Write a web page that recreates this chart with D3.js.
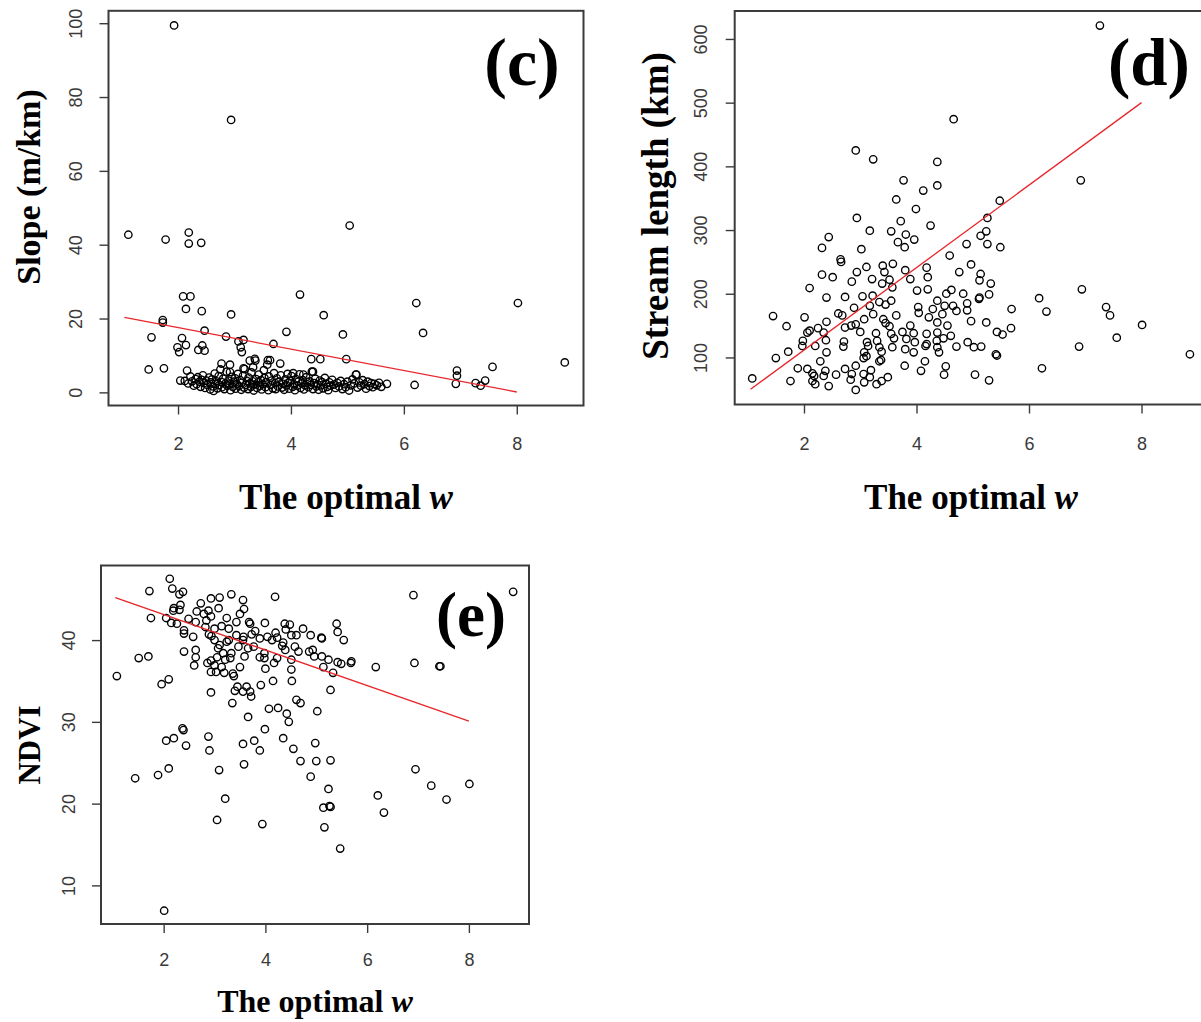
<!DOCTYPE html>
<html><head><meta charset="utf-8">
<script src="https://cdn.jsdelivr.net/npm/d3@7"></script>
<style>body{margin:0;background:#fff}svg{display:block}</style>
</head><body>
<svg id="chart" width="1201" height="1022"></svg>
<script>
// ---------------- DATA ----------------
const wTicks = [2, 4, 6, 8];
const slopeTicks = [0, 20, 40, 60, 80, 100];
const lengthTicks = [100, 200, 300, 400, 500, 600];
const ndviTicks = [10, 20, 30, 40];

// (c) optimal w vs slope (m/km)
const slopePoints = [
[1.93,99.4],[2.94,73.8],[1.12,42.7],[1.78,41.4],[2.19,43.3],[2.19,40.3],[2.41,40.5],[5.04,45.2],
[2.09,26.0],[2.22,26.0],[2.14,22.6],[2.42,22.0],[2.94,21.1],[4.16,26.5],[4.58,20.9],[6.22,24.2],[8.02,24.2],
[1.73,19.6],[1.73,18.9],[1.53,14.9],[2.47,16.7],[2.85,15.1],[3.92,16.4],[4.92,15.7],[6.34,16.1],[2.07,14.7],
[1.99,12.2],[2.02,10.9],[2.14,12.8],[2.43,12.7],[2.36,11.5],[2.47,11.3],[3.07,13.8],[3.16,14.2],[3.11,12.2],[3.13,10.9],
[3.69,13.1],[4.36,9.0],[4.52,9.0],[4.98,9.0],[1.48,6.2],[1.75,6.5],[2.16,5.9],[2.04,3.2],[6.94,5.9],[6.94,4.5],
[6.92,2.3],[7.57,6.9],[8.85,8.1],[7.27,2.5],[7.44,3.2],[7.36,1.8],[6.19,2.0],[5.70,2.3],
[2.77,7.8],[3.27,8.6],[3.36,9.1],[3.59,8.7],[3.33,6.8],[3.16,6.5],[2.92,5.5],[4.04,5.2],[4.22,4.8],[4.39,5.6],[5.16,4.8],
[2.12,3.1],[2.18,2.4],[2.22,4.3],[2.25,3.0],[2.28,1.8],[2.31,3.6],[2.33,2.2],[2.35,4.1],[2.38,2.9],[2.40,1.5],
[2.42,3.4],[2.44,4.6],[2.46,2.5],[2.48,1.2],[2.50,3.2],[2.52,2.0],[2.55,4.0],[2.57,0.8],[2.58,2.7],[2.60,3.5],
[2.62,1.6],[2.63,0.4],[2.65,5.1],[2.66,2.3],[2.68,3.0],[2.70,1.1],[2.72,4.4],[2.73,2.0],[2.75,6.2],[2.77,2.8],
[2.78,1.4],[2.80,3.7],[2.82,0.9],[2.84,2.4],[2.86,5.6],[2.87,1.8],[2.89,3.2],[2.91,2.1],[2.92,7.5],[2.93,0.6],
[2.95,4.2],[2.97,1.5],[2.99,2.9],[3.01,3.8],[3.02,1.0],[3.04,2.3],[3.06,5.0],[3.08,1.7],[3.10,3.3],[3.12,0.7],
[3.13,2.6],[3.15,4.5],[3.17,1.3],[3.18,6.3],[3.20,2.0],[3.22,3.1],[3.24,0.9],[3.25,4.0],[3.27,2.4],[3.29,1.5],
[3.30,5.4],[3.32,3.0],[3.34,0.5],[3.35,2.1],[3.37,8.6],[3.38,3.6],[3.40,1.2],[3.42,2.7],[3.43,4.8],[3.45,1.8],
[3.47,3.3],[3.48,0.8],[3.50,2.2],[3.52,6.0],[3.53,3.9],[3.55,1.4],[3.56,2.8],[3.58,7.5],[3.60,0.6],[3.61,4.3],
[3.63,8.7],[3.64,2.0],[3.66,3.2],[3.68,1.1],[3.70,5.2],[3.72,2.5],[3.73,0.9],[3.75,3.8],[3.77,1.6],[3.79,2.9],
[3.81,7.8],[3.82,4.6],[3.84,1.3],[3.86,2.3],[3.88,0.7],[3.90,3.5],[3.92,1.9],[3.94,5.0],[3.95,2.6],[3.97,1.0],
[3.99,3.1],[4.01,4.4],[4.03,1.5],[4.05,2.2],[4.07,0.6],[4.09,3.6],[4.11,1.8],[4.13,2.9],[4.15,4.9],[4.17,1.2],
[4.19,2.4],[4.21,3.3],[4.23,0.8],[4.25,1.9],[4.27,4.1],[4.29,2.7],[4.31,1.4],[4.33,3.0],[4.35,2.0],[4.37,5.6],
[4.39,0.9],[4.41,2.5],[4.43,3.7],[4.45,1.6],[4.47,2.2],[4.49,0.7],[4.51,3.2],[4.53,1.9],[4.55,2.8],[4.57,1.1],
[4.60,3.9],[4.62,2.3],[4.64,1.5],[4.66,0.6],[4.68,2.7],[4.70,1.8],[4.73,3.4],[4.76,2.1],[4.79,1.2],[4.82,2.6],
[4.85,1.6],[4.88,3.1],[4.91,0.9],[4.94,2.2],[4.97,1.4],[5.00,2.9],[5.03,0.5],[5.06,1.9],[5.09,3.5],[5.12,2.4],
[5.15,4.8],[5.18,1.3],[5.21,2.7],[5.24,1.8],[5.27,3.3],[5.30,2.2],[5.33,1.0],[5.36,2.9],[5.39,1.7],[5.42,2.5],
[5.45,1.4],[5.48,2.3],[5.52,1.9],[5.56,2.6],[5.60,1.5]
];
const slopeFit = [[1.05, 20.3], [8.0, 0.1]];

// (d) optimal w vs stream length (km)
const lengthPoints = [
[7.26,621],[4.66,474],[2.92,425],[3.23,411],[4.37,407],[4.37,370],[3.77,378],[4.12,362],[3.64,348],[5.48,346],
[3.99,333],[6.92,378],[2.94,319],[3.72,314],[5.26,319],[4.25,307],[3.17,299],[3.55,298],[3.81,293],[3.96,285],
[5.24,298],[5.14,291],[2.44,289],[2.32,272],[3.02,270],[3.67,281],[3.79,273],[4.89,278],[5.26,278],[5.49,273],
[2.65,254],[2.66,250],[4.59,260],[3.58,247],[3.40,244],[3.11,242],[4.97,246],[4.18,241],[3.80,237],[3.43,234],
[2.32,230],[2.51,226],[2.94,234],[3.21,223],[3.52,222],[3.89,223],[4.20,226],[4.76,234],[5.14,231],[5.12,221],
[5.32,216],[2.85,219],[3.39,216],[2.10,209],[3.57,210],[4.01,205],[4.20,207],[4.62,206],[6.94,207],[6.18,193],
[2.40,194],[2.73,195],[3.04,196],[3.22,197],[4.53,200],[4.83,200],[5.29,199],[5.12,194],[5.11,192],[4.37,189],
[3.55,189],[3.34,187],[3.45,183],[4.90,185],[4.65,181],[4.50,181],[4.29,176],[4.03,179],[3.17,181],[2.89,178],
[5.69,176],[7.37,179],[6.31,172],[4.71,173],[4.90,174],[4.04,170],[4.46,168],[4.22,163],[3.64,166],[3.23,168],
[2.61,169],[2.68,166],[7.44,166],[1.45,165],[2.01,163],[3.07,160],[3.41,160],[2.40,156],[2.92,152],[2.84,150],
[3.45,154],[4.37,155],[4.55,150],[4.97,157],[5.24,155],[8.01,151],[1.69,149],[3.52,149],[3.89,150],[2.73,147],
[2.25,146],[5.68,146],[5.43,140],[5.53,136],[2.10,142],[2.06,139],[2.35,139],[3.00,140],[3.28,138],[3.55,137],
[3.75,140],[3.95,138],[4.18,137],[4.37,139],[4.61,134],[1.98,126],[2.39,127],[2.71,125],[3.12,124],[3.30,126],
[3.60,130],[3.82,129],[3.97,124],[4.18,121],[4.36,126],[4.48,130],[4.91,124],[7.56,131],[1.97,118],[2.20,118],
[2.70,117],[3.14,118],[3.34,116],[3.57,116],[3.80,113],[4.16,118],[4.37,116],[4.71,117],[5.02,116],[5.15,117],
[6.89,117],[1.72,109],[2.40,108],[3.07,108],[3.38,109],[3.95,108],[4.40,108],[5.41,105],[5.43,103],[8.86,105],
[1.50,99],[3.11,102],[3.06,99],[3.34,94],[2.29,94],[4.15,94],[3.37,96],[1.89,83],[2.06,82],[2.73,82],
[3.79,87],[2.92,87],[4.52,86],[6.23,83],[3.19,80],[4.08,79],[2.38,79],[2.15,75],[2.18,71],[2.57,73],
[2.85,74],[3.06,74],[2.35,71],[4.49,73],[5.04,73],[1.08,67],[1.76,63],[2.15,63],[2.83,65],[3.17,69],
[3.38,63],[3.49,69],[5.29,64],[2.20,58],[2.44,55],[2.92,49],[3.29,58],[3.07,61]
];
const lengthFit = [[1.05, 50], [8.0, 500]];

// (e) optimal w vs NDVI
const ndviPoints = [
[8.87,45.9],[6.91,45.5],[6.93,37.2],[7.42,36.8],[7.44,36.8],[6.17,36.7],[6.95,24.2],[7.26,22.2],[8.01,22.4],[7.56,20.5],
[6.21,21.0],[6.33,18.9],[5.47,14.5],[5.16,17.1],[5.14,19.5],[5.26,19.7],[5.28,19.6],[5.24,21.8],[4.89,23.3],[5.28,25.3],
[5.00,25.2],[4.69,25.2],[4.98,27.4],[4.55,26.7],[4.35,28.0],[5.02,31.3],[5.28,33.9],[4.61,32.7],[4.69,32.3],[4.42,31.0],
[4.46,30.0],[4.25,31.7],[4.07,31.6],[3.99,29.1],[3.89,26.5],[3.78,27.7],[3.56,27.3],[3.58,24.8],[3.66,30.6],[3.94,17.5],
[3.21,20.6],[3.05,18.0],[3.09,24.1],[2.90,26.5],[2.88,28.2],[2.93,33.6],[2.01,6.9],[1.44,23.1],[1.89,23.5],[2.10,24.3],
[2.44,27.1],[2.05,27.7],[2.20,28.0],[2.37,29.2],[2.39,29.0],[1.08,35.6],[1.51,37.8],[1.70,38.0],[1.96,34.6],[2.10,35.2],
[2.40,38.6],[2.63,38.8],[2.63,37.9],[2.60,36.9],[2.58,40.4],[1.75,42.7],[1.72,46.0],[2.12,47.5],[2.17,46.3],[2.31,45.6],
[2.38,45.9],[2.33,44.3],[2.20,43.9],[2.19,43.6],[2.31,43.7],[2.05,42.7],[2.26,42.0],[2.40,41.2],[2.40,40.8],[2.49,42.6],
[2.63,42.2],[2.73,44.5],[2.65,43.5],[2.79,43.2],[2.88,43.6],[2.84,42.4],[2.93,45.1],[3.10,45.2],[3.08,43.9],[3.33,45.6],
[3.24,42.7],[3.00,41.4],[2.94,40.5],[3.00,40.0],[3.14,41.7],[3.28,40.0],[3.24,39.8],[3.43,42.2],[3.50,43.2],[3.56,44.9],
[3.58,43.8],[3.68,42.2],[3.70,42.0],[3.57,40.4],[3.43,40.6],[3.73,40.7],[3.80,41.1],[3.89,40.2],[3.99,42.1],[4.04,40.4],
[4.19,45.3],[4.20,40.9],[4.23,40.3],[4.13,40.0],[4.38,42.0],[4.48,41.9],[4.51,40.6],[4.40,41.3],[4.35,39.7],[4.33,39.3],
[4.39,38.8],[4.61,40.6],[4.74,41.4],[4.58,39.2],[4.65,38.6],[4.89,40.6],[4.86,38.6],[4.93,38.8],[5.10,40.3],[5.11,40.2],
[4.96,38.0],[5.11,38.0],[5.14,36.7],[5.24,37.6],[5.33,36.0],[5.40,42.0],[5.42,41.0],[5.54,40.0],[5.42,37.3],[5.49,37.1],
[5.68,37.2],[5.69,37.4],[4.51,37.6],[4.51,36.4],[4.52,35.0],[4.15,35.0],[4.17,37.2],[4.23,37.8],[3.98,37.8],[4.00,36.5],
[3.89,37.9],[3.98,38.4],[3.91,34.5],[3.70,33.7],[3.72,33.1],[3.63,34.3],[3.56,33.7],[3.45,34.3],[3.40,33.8],[3.35,32.3],
[3.38,35.6],[3.36,35.9],[3.50,36.7],[3.31,37.8],[3.33,38.4],[3.17,38.4],[3.21,37.6],[3.14,36.7],[3.05,37.9],[3.00,36.9],
[2.93,36.1],[3.03,36.1],[3.19,36.0],[2.93,37.5],[2.86,37.2],[3.59,38.0],[3.66,39.0],[3.47,39.2],[3.77,39.2],[3.07,39.0],
[3.10,39.4],[2.89,40.7],[3.56,40.0],[2.93,42.9],[3.28,41.4],[2.82,41.6],[2.15,42.1]
];
const ndviFit = [[1.05, 45.2], [8.0, 30.1]];

// ---------------- LAYOUT ----------------
const panels = [
  { data: slopePoints, fit: slopeFit, yTicks: slopeTicks,
    box: {l: 108.5, r: 583.5, t: 10.8, b: 405.5},
    xLabBase: 449.5, yLabCenter: 75,
    xTitle: {x: 346, y: 509, size: 35}, yTitle: {text: "Slope (m/km)", x: 40, y: 187, size: 34},
    letter: {text: "(c)", x: 522, y: 85, size: 68} },
  { data: lengthPoints, fit: lengthFit, yTicks: lengthTicks,
    box: {l: 734.7, r: 1208, t: 11, b: 404.5},
    xLabBase: 449.5, yLabCenter: 700,
    xTitle: {x: 971, y: 509, size: 35}, yTitle: {text: "Stream length (km)", x: 668, y: 206, size: 37},
    letter: {text: "(d)", x: 1149, y: 85, size: 67} },
  { data: ndviPoints, fit: ndviFit, yTicks: ndviTicks,
    box: {l: 101, r: 529, t: 565.5, b: 924},
    xLabBase: 966, yLabCenter: 68,
    xTitle: {x: 315, y: 1012, size: 32}, yTitle: {text: "NDVI", x: 40, y: 745, size: 31},
    letter: {text: "(e)", x: 471, y: 636, size: 63} }
];

// ---------------- DRAW ----------------
const svg = d3.select("#chart");
svg.append("rect").attr("width", 1201).attr("height", 1022).attr("fill", "#fff");

function rDomain(vals) {
  const [a, b] = d3.extent(vals);
  const p = (b - a) * 0.04;
  return [a - p, b + p];
}
const xDom = rDomain([...slopePoints, ...lengthPoints, ...ndviPoints].map(d => d[0]));

const serif = "'Liberation Serif','Times New Roman',serif";
const sans = "'Liberation Sans',Arial,sans-serif";
const axisCol = "#3b3b3b";

panels.forEach(p => {
  const x = d3.scaleLinear().domain(xDom).range([p.box.l, p.box.r]);
  const y = d3.scaleLinear().domain(rDomain(p.data.map(d => d[1]))).range([p.box.b, p.box.t]);
  const g = svg.append("g");

  // x axis
  const xa = g.append("g").attr("transform", `translate(0,${p.box.b})`)
    .call(d3.axisBottom(x).tickValues(wTicks).tickSize(9).tickFormat(d3.format("d")));
  xa.select(".domain").remove();
  xa.selectAll("line").attr("stroke", axisCol).attr("stroke-width", 1.4);
  xa.selectAll("text").attr("y", p.xLabBase - p.box.b).attr("dy", null)
    .attr("font-family", sans).attr("font-size", 18).attr("fill", "#3a3a3a");

  // y axis
  const ya = g.append("g").attr("transform", `translate(${p.box.l},0)`)
    .call(d3.axisLeft(y).tickValues(p.yTicks).tickSize(9).tickFormat(d3.format("d")));
  ya.select(".domain").remove();
  ya.selectAll("line").attr("stroke", axisCol).attr("stroke-width", 1.4);
  ya.selectAll("text").attr("x", null).attr("dy", null).attr("text-anchor", "middle")
    .attr("transform", `translate(${p.yLabCenter + 6.5 - p.box.l},0) rotate(-90)`)
    .attr("font-family", sans).attr("font-size", 18).attr("fill", "#3a3a3a");

  // points
  g.append("g").selectAll("circle").data(p.data).join("circle")
    .attr("cx", d => x(d[0])).attr("cy", d => y(d[1])).attr("r", 3.7)
    .attr("fill", "none").attr("stroke", "#000").attr("stroke-width", 1.35);

  // fitted line
  g.append("path").datum(p.fit)
    .attr("d", d3.line().x(d => x(d[0])).y(d => y(d[1])))
    .attr("fill", "none").attr("stroke", "#e8262b").attr("stroke-width", 1.3);

  // box
  g.append("rect").attr("x", p.box.l).attr("y", p.box.t)
    .attr("width", p.box.r - p.box.l).attr("height", p.box.b - p.box.t)
    .attr("fill", "none").attr("stroke", axisCol).attr("stroke-width", 2);

  // x title
  const xt = g.append("text").attr("x", p.xTitle.x).attr("y", p.xTitle.y)
    .attr("text-anchor", "middle").attr("font-family", serif).attr("font-weight", "bold")
    .attr("font-size", p.xTitle.size).attr("fill", "#000");
  xt.append("tspan").text("The optimal ");
  xt.append("tspan").attr("font-style", "italic").text("w");

  // y title
  g.append("text").attr("transform", `translate(${p.yTitle.x},${p.yTitle.y}) rotate(-90)`)
    .attr("text-anchor", "middle").attr("font-family", serif).attr("font-weight", "bold")
    .attr("font-size", p.yTitle.size).attr("fill", "#000").text(p.yTitle.text);

  // panel letter
  g.append("text").attr("x", p.letter.x).attr("y", p.letter.y).attr("text-anchor", "middle")
    .attr("font-family", serif).attr("font-weight", "bold").attr("font-size", p.letter.size)
    .attr("fill", "#000").text(p.letter.text);
});
</script>
</body></html>
